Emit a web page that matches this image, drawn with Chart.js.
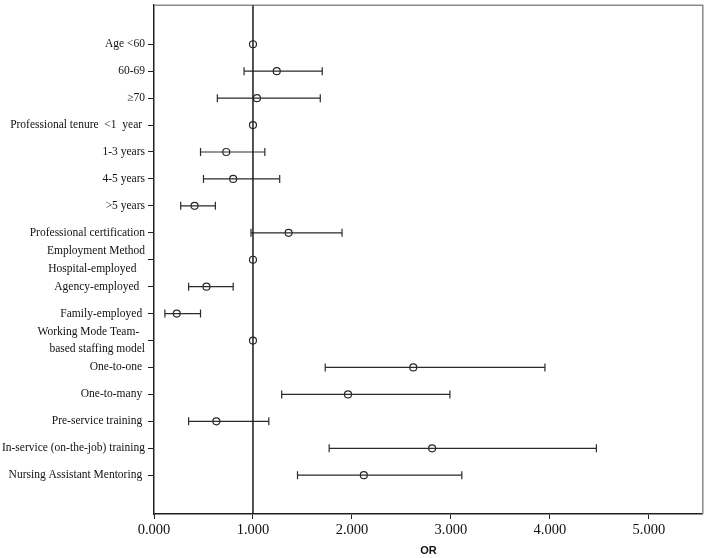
<!DOCTYPE html>
<html>
<head>
<meta charset="utf-8">
<script src="https://cdn.jsdelivr.net/npm/chart.js@4.4.1/dist/chart.umd.min.js"></script>
<style>
  html, body { margin: 0; padding: 0; background: #fff; }
  #box { width: 708px; height: 558px; }
</style>
</head>
<body>
<div id="box"><canvas id="chart"></canvas></div>
<script>
// forest plot - odds ratios with 95% CI
const labels = [
  'Age <60', '60-69', '\u226570', 'Professional tenure  <1  year ',
  '1-3 years', '4-5 years', '>5 years', 'Professional certification',
  ['Employment Method', 'Hospital-employed   '], 'Agency-employed  ', 'Family-employed ',
  ['Working Mode Team-  ', 'based staffing model'], 'One-to-one ', 'One-to-many ',
  'Pre-service training ', 'In-service (on-the-job) training', 'Nursing Assistant Mentoring '
];
const orVals = [1, 1.24, 1.04, 1, 0.73, 0.80, 0.41, 1.36, 1, 0.53, 0.23, 1, 2.62, 1.96, 0.63, 2.81, 2.12];
const lower  = [null, 0.91, 0.64, null, 0.47, 0.50, 0.27, 0.98, null, 0.35, 0.11, null, 1.73, 1.29, 0.35, 1.77, 1.45];
const upper  = [null, 1.70, 1.68, null, 1.12, 1.27, 0.62, 1.90, null, 0.80, 0.47, null, 3.95, 2.99, 1.16, 4.47, 3.11];
const xTicks = [0, 1, 2, 3, 4, 5];
const refOR = 1;

const Y_MIN = -0.45, Y_MAX = 18.44;
const rows = labels.map((_, i) => i + 1);

// CI segments, broken with nulls between rows
const ciData = [];
rows.forEach((r, i) => {
  if (lower[i] == null) return;
  ciData.push({ x: lower[i], y: r }, { x: upper[i], y: r }, { x: null, y: null });
});

const framePlugin = {
  id: 'frame',
  beforeDatasetsDraw(chart) {
    const a = chart.chartArea, ctx = chart.ctx;
    ctx.save();
    ctx.strokeStyle = '#8a8a8a';
    ctx.lineWidth = 1.5;
    ctx.beginPath();
    ctx.moveTo(a.left, a.top);
    ctx.lineTo(a.right, a.top);
    ctx.lineTo(a.right, a.bottom);
    ctx.stroke();
    ctx.restore();
  }
};

new Chart(document.getElementById('chart'), {
  type: 'scatter',
  data: {
    datasets: [
      { label: 'ref', data: [{ x: refOR, y: Y_MIN }, { x: refOR, y: Y_MAX }], showLine: true,
        borderColor: '#1a1a1a', borderWidth: 1.5, pointRadius: 0 },
      { label: 'CI', data: ciData, showLine: true, spanGaps: false,
        borderColor: '#2a2a2a', borderWidth: 1.2, pointStyle: 'line', pointRotation: 90,
        pointRadius: 4, pointBorderWidth: 1.2, pointBorderColor: '#2a2a2a' },
      { label: 'OR', data: rows.map((r, i) => ({ x: orVals[i], y: r })),
        pointStyle: 'circle', pointRadius: 3.5, pointBorderWidth: 1.2,
        pointBorderColor: '#2a2a2a', pointBackgroundColor: '#fff' },
    ]
  },
  options: {
    responsive: true, maintainAspectRatio: false, animation: false,
    layout: { padding: { top: 3, right: 5, left: 0, bottom: 0 } },
    plugins: { legend: { display: false }, tooltip: { enabled: false } },
    scales: {
      x: {
        type: 'linear', min: 0, max: 5.545,
        afterBuildTicks: s => { s.ticks = xTicks.map(v => ({ value: v })); },
        afterFit: s => { s.height = 44; },
        grid: { drawOnChartArea: false, drawTicks: true, tickLength: 5, color: '#222' },
        border: { color: '#222', width: 1.5 },
        ticks: { color: '#111', padding: 2, font: { family: 'Liberation Serif', size: 14.5 },
                 callback: v => v.toFixed(3) },
        title: { display: true, text: 'OR', color: '#111', padding: { top: 1, bottom: 0 },
                 font: { family: 'Liberation Sans', size: 11, weight: 'bold' } }
      },
      y: {
        type: 'linear', min: Y_MIN, max: Y_MAX, reverse: true,
        afterBuildTicks: s => { s.ticks = rows.map(v => ({ value: v })); },
        afterFit: s => { s.width = 154; s.paddingTop = 0; s.paddingBottom = 0; },
        grid: { drawOnChartArea: false, drawTicks: true, tickLength: 6, color: '#222' },
        border: { color: '#222', width: 1.5 },
        ticks: { color: '#111', padding: 3, autoSkip: false,
                 font: { family: 'Liberation Serif', size: 11.5, lineHeight: 1.55 },
                 callback: v => labels[v - 1] }
      }
    }
  },
  plugins: [framePlugin]
});
</script>
</body>
</html>
